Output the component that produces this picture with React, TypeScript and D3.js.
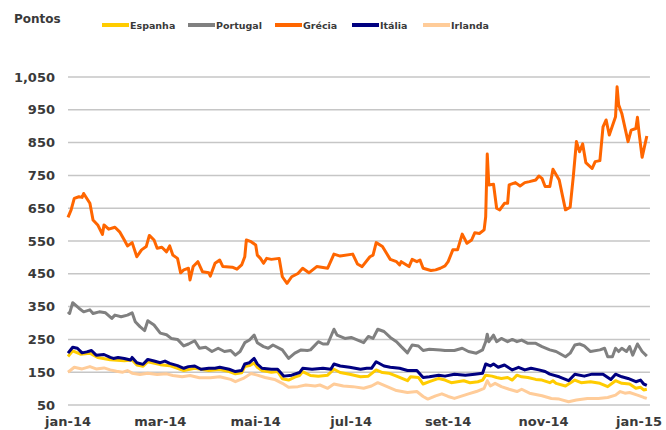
import * as d3 from "d3"

// dia = dias desde 1-jan-2014, valor em pontos
const espanha: [number, number][] = [[0,198],[3,215],[8,205],[14,208],[19,195],[27,188],[36,185],[41,187],[44,172],[48,168],[51,182],[59,173],[65,170],[74,155],[81,162],[90,155],[97,158],[103,152],[107,145],[111,148],[113,167],[116,170],[119,178],[121,165],[124,155],[130,150],[134,152],[137,130],[141,126],[145,135],[148,140],[150,152],[155,140],[160,138],[166,141],[170,159],[174,149],[180,144],[187,136],[192,138],[197,157],[201,149],[205,147],[210,138],[217,124],[219,136],[224,134],[227,114],[231,121],[237,131],[241,126],[245,118],[249,121],[253,124],[257,118],[262,121],[265,126],[267,141],[271,138],[274,134],[277,131],[281,134],[284,126],[287,141],[290,136],[294,134],[299,128],[303,126],[308,118],[310,124],[312,116],[318,108],[324,126],[328,118],[334,121],[340,116],[345,106],[350,124],[354,116],[359,114],[363,101],[366,104],[368,96],[370,98]]

const portugal: [number, number][] = [[0,334],[1,329],[3,362],[7,345],[10,334],[14,340],[16,329],[20,334],[24,331],[28,314],[30,324],[34,319],[38,324],[41,331],[43,304],[46,289],[49,277],[51,307],[55,294],[59,269],[63,264],[66,253],[70,250],[74,230],[77,236],[81,246],[84,223],[88,226],[92,213],[96,223],[100,213],[104,216],[107,202],[110,213],[113,240],[116,248],[119,263],[121,240],[125,228],[128,223],[131,233],[137,218],[141,192],[145,208],[149,218],[153,216],[155,218],[160,243],[163,236],[166,236],[170,281],[172,263],[177,253],[181,256],[189,240],[192,259],[195,253],[198,281],[202,274],[206,256],[210,243],[213,228],[217,209],[220,233],[224,230],[227,216],[231,220],[238,218],[241,216],[247,216],[252,223],[256,213],[261,208],[265,218],[267,243],[268,266],[269,243],[272,263],[274,243],[277,253],[281,243],[284,250],[287,243],[290,248],[294,238],[299,238],[303,228],[308,218],[312,213],[318,197],[321,208],[324,233],[327,236],[330,230],[334,213],[340,218],[343,223],[345,197],[348,197],[350,223],[352,213],[354,223],[357,213],[359,228],[361,202],[364,236],[367,213],[370,199]]

const grecia: [number, number][] = [[0,622],[2,645],[4,680],[7,685],[9,683],[10,695],[14,665],[16,614],[19,599],[22,570],[23,599],[26,586],[30,592],[33,578],[36,553],[38,535],[41,545],[44,502],[47,523],[50,533],[52,567],[55,553],[57,528],[60,531],[63,517],[65,535],[67,507],[70,497],[72,453],[74,462],[77,467],[78,431],[80,472],[83,487],[86,456],[90,453],[91,443],[94,482],[97,492],[99,472],[105,470],[108,464],[111,477],[113,502],[114,553],[117,548],[120,538],[121,507],[123,497],[125,482],[127,497],[130,494],[135,497],[137,441],[140,421],[143,441],[147,451],[150,467],[154,453],[159,472],[166,467],[170,510],[174,504],[182,510],[185,480],[188,472],[193,502],[195,507],[197,545],[201,533],[206,494],[210,487],[212,477],[213,487],[218,472],[220,494],[223,487],[225,492],[227,467],[232,460],[235,462],[238,467],[241,474],[243,487],[246,523],[249,523],[252,571],[255,543],[258,553],[260,575],[263,573],[266,584],[267,624],[268,815],[269,721],[272,723],[274,650],[276,645],[279,665],[281,665],[282,721],[286,728],[289,718],[292,728],[295,731],[299,736],[301,748],[303,741],[305,716],[308,716],[310,769],[314,736],[316,690],[318,645],[321,653],[323,746],[325,853],[327,822],[329,846],[331,789],[335,771],[337,792],[340,795],[342,898],[344,919],[346,873],[350,929],[351,1020],[352,965],[354,939],[358,853],[360,888],[363,893],[364,927],[365,881],[367,805],[370,870]]

const italia: [number, number][] = [[0,208],[3,226],[6,223],[9,209],[12,212],[15,216],[18,202],[23,204],[27,195],[29,192],[32,195],[36,192],[40,187],[41,195],[44,179],[48,174],[51,189],[55,184],[59,179],[62,184],[65,177],[70,170],[74,162],[77,167],[81,169],[85,159],[90,162],[94,162],[97,165],[103,159],[107,152],[111,155],[113,175],[116,179],[119,192],[121,175],[124,162],[130,159],[134,159],[138,138],[143,141],[148,149],[150,162],[156,159],[163,162],[168,159],[170,175],[174,169],[180,165],[187,159],[191,162],[194,162],[197,182],[202,169],[206,165],[212,162],[217,155],[223,155],[227,134],[231,136],[237,141],[241,138],[247,144],[254,141],[260,144],[265,147],[267,175],[270,169],[272,175],[275,165],[279,172],[284,157],[288,165],[292,157],[296,162],[301,157],[305,152],[308,144],[314,136],[320,124],[324,144],[330,138],[335,144],[342,144],[347,128],[350,144],[354,136],[358,131],[363,121],[366,126],[368,114],[370,110]]

const irlanda: [number, number][] = [[0,150],[4,165],[9,160],[14,167],[18,160],[23,163],[27,157],[31,153],[35,150],[38,155],[41,147],[46,143],[51,147],[57,143],[63,145],[67,140],[73,136],[78,140],[84,133],[91,133],[97,136],[104,128],[107,121],[112,131],[117,146],[121,141],[126,134],[132,128],[137,116],[141,104],[147,106],[152,111],[158,108],[161,111],[166,101],[170,114],[176,108],[182,106],[189,101],[194,108],[198,118],[204,106],[210,94],[217,88],[223,91],[227,76],[230,68],[235,78],[239,84],[243,76],[247,70],[252,78],[256,84],[261,91],[266,101],[268,124],[270,108],[273,116],[277,106],[282,98],[287,91],[290,98],[295,86],[303,78],[309,70],[314,68],[320,60],[325,65],[332,70],[339,70],[345,73],[350,80],[353,91],[356,86],[359,88],[364,80],[368,73],[370,70]]

const series = [
  { name: "Espanha", color: "#FFCC00", data: espanha },
  { name: "Portugal", color: "#808080", data: portugal },
  { name: "Grécia", color: "#FF6600", data: grecia },
  { name: "Itália", color: "#000080", data: italia },
  { name: "Irlanda", color: "#FFCC99", data: irlanda },
]
const drawOrder = ["Irlanda", "Espanha", "Itália", "Portugal", "Grécia"]

const yTicks = [50, 150, 250, 350, 450, 550, 650, 750, 850, 950, 1050]
const xTicks = ["2014-01-01", "2014-03-01", "2014-05-01", "2014-07-01", "2014-09-01", "2014-11-01", "2015-01-01"]
const xLabels = ["jan-14", "mar-14", "mai-14", "jul-14", "set-14", "nov-14", "jan-15"]

const W = 666, H = 430
const start = new Date(2014, 0, 1)
const parse = d3.timeParse("%Y-%m-%d")
const font = "'DejaVu Sans', Verdana, sans-serif"
const txt = "#3a3a3a"

export default function App() {
  const x = d3.scaleTime().domain([start, new Date(2015, 0, 1)]).range([68, 639])
  const y = d3.scaleLinear().domain([50, 1050]).range([405, 77])
  const gridRight = x(d3.timeDay.offset(start, 372))
  const line = d3.line<[number, number]>()
    .x(d => x(d3.timeDay.offset(start, d[0])))
    .y(d => y(d[1]))

  const legendX = [102, 188, 275, 352, 423]

  return (
    <svg width={W} height={H} style={{ position: "fixed", left: 0, top: 0, background: "#fff" }}
      fontFamily={font}>
      <text x={14} y={23} fontSize={12} fontWeight="bold" fill={txt}>Pontos</text>
      {series.map((s, i) => (
        <g key={s.name} transform={`translate(${legendX[i]},0)`}>
          <line x1={0} x2={27} y1={25} y2={25} stroke={s.color} strokeWidth={4} />
          <text x={28} y={29} fontSize={9.5} fontWeight="bold" fill={txt}>{s.name}</text>
        </g>
      ))}
      {yTicks.map(t => (
        <g key={t}>
          <line x1={68} x2={gridRight} y1={y(t)} y2={y(t)} stroke="#c6c6c6" strokeWidth={1.5} />
          <text x={55} y={y(t)} dy="0.36em" textAnchor="end" fontSize={13} fontWeight="bold" fill={txt}>
            {d3.format(",")(t)}
          </text>
        </g>
      ))}
      {xTicks.map((t, i) => (
        <text key={t} x={x(parse(t)!)} y={426} textAnchor="middle" fontSize={13} fontWeight="bold" fill={txt}>
          {xLabels[i]}
        </text>
      ))}
      {drawOrder.map(n => {
        const s = series.find(v => v.name === n)!
        return (
          <path key={n} d={line(s.data) || ""} fill="none" stroke={s.color}
            strokeWidth={3} strokeLinejoin="round" />
        )
      })}
    </svg>
  )
}
